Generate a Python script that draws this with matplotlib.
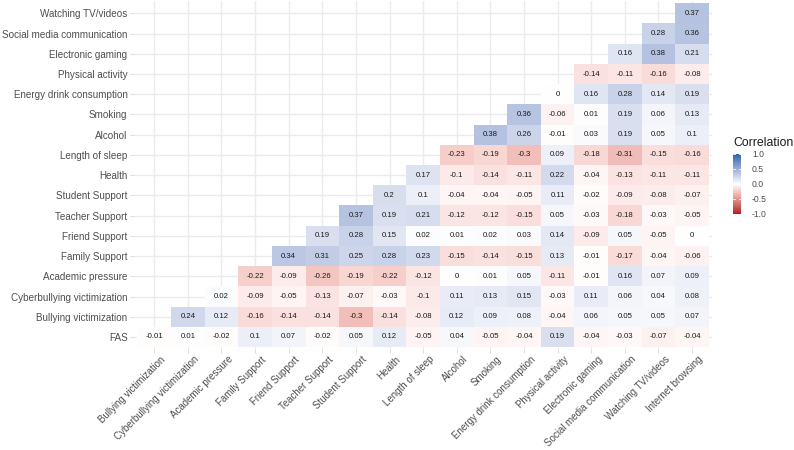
import numpy as np
import matplotlib
matplotlib.use("Agg")
import matplotlib.pyplot as plt
from matplotlib.colors import ListedColormap, to_rgb
from matplotlib.transforms import ScaledTranslation

plt.rcParams['font.family'] = ['Liberation Sans', 'DejaVu Sans']

# Rows (bottom to top) and columns (left to right)
row_labels = ["FAS", "Bullying victimization", "Cyberbullying victimization",
              "Academic pressure", "Family Support", "Friend Support",
              "Teacher Support", "Student Support", "Health", "Length of sleep",
              "Alcohol", "Smoking", "Energy drink consumption", "Physical activity",
              "Electronic gaming", "Social media communication", "Watching TV/videos"]
col_labels = ["Bullying victimization", "Cyberbullying victimization",
              "Academic pressure", "Family Support", "Friend Support",
              "Teacher Support", "Student Support", "Health", "Length of sleep",
              "Alcohol", "Smoking", "Energy drink consumption", "Physical activity",
              "Electronic gaming", "Social media communication", "Watching TV/videos",
              "Internet browsing"]

# Each row lists values from the diagonal column to the right end
row_fas = [-0.01, 0.01, -0.02, 0.1, 0.07, -0.02, 0.05, 0.12, -0.05, 0.04, -0.05, -0.04, 0.19, -0.04, -0.03, -0.07, -0.04]
row_bully = [0.24, 0.12, -0.16, -0.14, -0.14, -0.3, -0.14, -0.08, 0.12, 0.09, 0.08, -0.04, 0.06, 0.05, 0.05, 0.07]
row_cyber = [0.02, -0.09, -0.05, -0.13, -0.07, -0.03, -0.1, 0.11, 0.13, 0.15, -0.03, 0.11, 0.06, 0.04, 0.08]
row_academic = [-0.22, -0.09, -0.26, -0.19, -0.22, -0.12, 0, 0.01, 0.05, -0.11, -0.01, 0.16, 0.07, 0.09]
row_family = [0.34, 0.31, 0.25, 0.28, 0.23, -0.15, -0.14, -0.15, 0.13, -0.01, -0.17, -0.04, -0.06]
row_friend = [0.19, 0.28, 0.15, 0.02, 0.01, 0.02, 0.03, 0.14, -0.09, 0.05, -0.05, 0]
row_teacher = [0.37, 0.19, 0.21, -0.12, -0.12, -0.15, 0.05, -0.03, -0.18, -0.03, -0.05]
row_student = [0.2, 0.1, -0.04, -0.04, -0.05, 0.11, -0.02, -0.09, -0.08, -0.07]
row_health = [0.17, -0.1, -0.14, -0.11, 0.22, -0.04, -0.13, -0.11, -0.11]
row_sleep = [-0.23, -0.19, -0.3, 0.09, -0.18, -0.31, -0.15, -0.16]
row_alcohol = [0.38, 0.26, -0.01, 0.03, 0.19, 0.05, 0.1]
row_smoking = [0.36, -0.06, 0.01, 0.19, 0.06, 0.13]
row_energy = [0, 0.16, 0.28, 0.14, 0.19]
row_physical = [-0.14, -0.11, -0.16, -0.08]
row_gaming = [0.16, 0.38, 0.21]
row_social = [0.28, 0.36]
row_tv = [0.37]

rows = [row_fas, row_bully, row_cyber, row_academic, row_family, row_friend,
        row_teacher, row_student, row_health, row_sleep, row_alcohol, row_smoking,
        row_energy, row_physical, row_gaming, row_social, row_tv]

n = len(row_labels)
M = np.full((n, n), np.nan)
for r, vals in enumerate(rows):
    for k, v in enumerate(vals):
        M[r, r + k] = v

# ---- Lab-interpolated diverging palette (like ggplot's gradient2) ----
_M = np.array([[0.4124, 0.3576, 0.1805], [0.2126, 0.7152, 0.0722], [0.0193, 0.1192, 0.9505]])
_WP = np.array([0.95047, 1.0, 1.08883])

def srgb_to_lab(rgb):
    rgb = np.asarray(rgb, float)
    lin = np.where(rgb <= 0.04045, rgb / 12.92, ((rgb + 0.055) / 1.055) ** 2.4)
    t = (lin @ _M.T) / _WP
    f = np.where(t > (6/29)**3, np.cbrt(t), t / (3*(6/29)**2) + 4/29)
    return np.stack([116*f[..., 1] - 16, 500*(f[..., 0] - f[..., 1]), 200*(f[..., 1] - f[..., 2])], -1)

def lab_to_srgb(lab):
    L, a, b = lab[..., 0], lab[..., 1], lab[..., 2]
    fy = (L + 16) / 116
    fx = fy + a / 500
    fz = fy - b / 200
    def finv(f):
        return np.where(f > 6/29, f**3, 3*(6/29)**2*(f - 4/29))
    xyz = np.stack([finv(fx), finv(fy), finv(fz)], -1) * _WP
    lin = np.clip(xyz @ np.linalg.inv(_M).T, 0, 1)
    rgb = np.where(lin <= 0.0031308, 12.92*lin, 1.055*lin**(1/2.4) - 0.055)
    return np.clip(rgb, 0, 1)

low, mid, high = to_rgb("#B2182B"), to_rgb("#FFFFFF"), to_rgb("#2166AC")
labs = srgb_to_lab(np.array([low, mid, high]))
cols = []
for t in np.linspace(0, 1, 256):
    if t < 0.5:
        u = t / 0.5
        lab = labs[0]*(1-u) + labs[1]*u
    else:
        u = (t - 0.5) / 0.5
        lab = labs[1]*(1-u) + labs[2]*u
    cols.append(lab_to_srgb(lab))
cmap = ListedColormap(np.array(cols))

# ---- figure ----
W, H = 794, 450
fig = plt.figure(figsize=(W/100, H/100), dpi=100)
ax = fig.add_axes([134.1/W, 1 - 349.1/H, 578.1/W, 347.9/H])
ax.set_xlim(-0.6, n - 0.4)
ax.set_ylim(-0.6, n - 0.4)

grid_col = "#ebebeb"
for i in range(n):
    ax.axvline(i, color=grid_col, lw=1.0, zorder=0)
    ax.axhline(i, color=grid_col, lw=1.0, zorder=0)

edges = np.arange(n + 1) - 0.5
ax.pcolormesh(edges, edges, np.ma.masked_invalid(M), cmap=cmap, vmin=-1, vmax=1,
              zorder=1, edgecolors='none')

for r in range(n):
    for c in range(n):
        v = M[r, c]
        if not np.isnan(v):
            ax.text(c, r, f"{v:g}", ha='center', va='center', fontsize=5.6,
                    color='#1a1a1a', zorder=3)

for s in ax.spines.values():
    s.set_visible(False)

ax.set_yticks(range(n))
ax.set_yticklabels(row_labels, fontsize=7.1, color='#4d4d4d')
ax.set_xticks(range(n))
ax.set_xticklabels(col_labels, fontsize=7.0, color='#4d4d4d', rotation=45,
                   ha='right', va='top', rotation_mode='anchor')
ax.tick_params(axis='both', length=2.75, width=0.8, color='#dedede')
ax.tick_params(axis='y', pad=2.0)
ax.tick_params(axis='x', pad=1.0)
off = ScaledTranslation(6/100, 0, fig.dpi_scale_trans)
for lab in ax.get_xticklabels():
    lab.set_transform(lab.get_transform() + off)

# ---- legend colorbar ----
cax = fig.add_axes([733/W, 1 - 214/H, 8/W, 60/H])
grad = np.linspace(-1, 1, 256).reshape(-1, 1)
cax.imshow(grad, cmap=cmap, vmin=-1, vmax=1, aspect='auto', origin='lower',
           extent=[0, 1, -1, 1])
cax.set_xlim(0, 1)
cax.set_ylim(-1, 1)
cax.set_xticks([])
cax.set_yticks([])
for s in cax.spines.values():
    s.set_visible(False)
leg_vals = [1.0, 0.5, 0.0, -0.5, -1.0]
for v in leg_vals:
    cax.plot([0, 0.2], [v, v], color='white', lw=0.6)
    cax.plot([0.8, 1], [v, v], color='white', lw=0.6)
    y = 1 - (184.3 - v * 30) / H
    fig.text(752/W, y, f"{v:.1f}", fontsize=6.2, color='#4d4d4d', ha='left', va='center')
fig.text(733/W, 1 - 143/H, "Correlation", fontsize=8.8, color='#1a1a1a', ha='left', va='center')

fig.savefig("out.png", dpi=100)
